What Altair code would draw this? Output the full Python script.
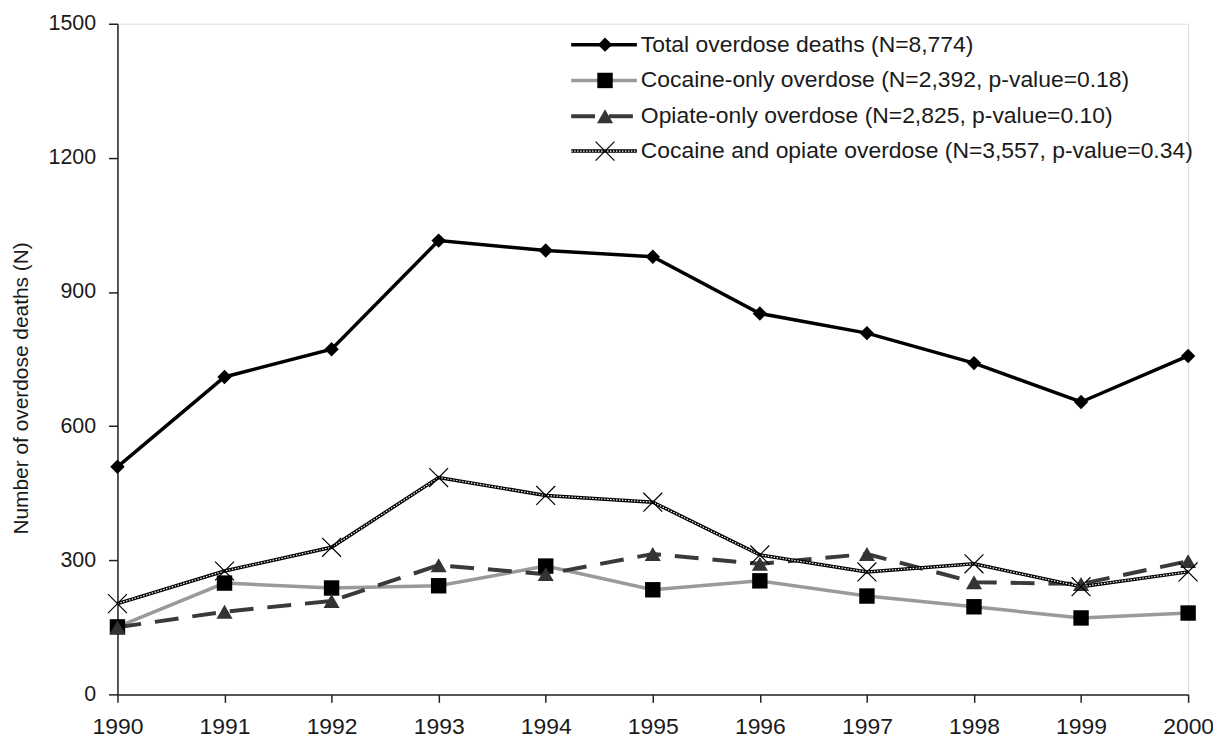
import altair as alt
import pandas as pd

years = [1990, 1991, 1992, 1993, 1994, 1995, 1996, 1997, 1998, 1999, 2000]
total = [509, 710, 772, 1015, 993, 979, 852, 808, 741, 654, 757]
cocaine_only = [151, 249, 238, 243, 287, 234, 254, 220, 196, 171, 182]
opiate_only = [150, 185, 209, 289, 269, 314, 292, 314, 251, 247, 298]
cocaine_opiate = [203, 276, 329, 485, 445, 430, 312, 274, 292, 241, 274]
series_labels = [
    "Total overdose deaths (N=8,774)",
    "Cocaine-only overdose (N=2,392, p-value=0.18)",
    "Opiate-only overdose (N=2,825, p-value=0.10)",
    "Cocaine and opiate overdose (N=3,557, p-value=0.34)",
]
y_ticks = [0, 300, 600, 900, 1200, 1500]
y_title = "Number of overdose deaths (N)"

rows = []
for name, vals in zip(series_labels, [total, cocaine_only, opiate_only, cocaine_opiate]):
    for yr, v in zip(years, vals):
        rows.append({"year": yr, "deaths": v, "series": name})
df = pd.DataFrame(rows)

FONT = "Liberation Sans"
TXT = "#1a1a1a"
AX = "#222222"

x_enc = alt.X(
    "year:Q",
    scale=alt.Scale(domain=[years[0], years[-1]], nice=False, zero=False),
    axis=alt.Axis(values=years, format="d", title=None, grid=False,
                  labelFontSize=23, labelFont=FONT, labelColor=TXT,
                  tickSize=8, tickColor=AX, tickWidth=1.5,
                  domainColor=AX, domainWidth=1.5, labelPadding=13,
                  labelFlush=False, labelOverlap=False),
)
y_enc = alt.Y(
    "deaths:Q",
    scale=alt.Scale(domain=[0, 1500], nice=False),
    axis=alt.Axis(values=y_ticks, format="d", title=y_title, grid=False,
                  labelFontSize=21.5, labelFont=FONT, labelColor=TXT,
                  tickSize=9, tickColor=AX, tickWidth=1.5,
                  domainColor=AX, domainWidth=1.5, labelPadding=13,
                  titleFont=FONT, titleFontSize=21, titleFontWeight="normal",
                  titleColor=TXT, titleX=-96, titleY=366, titleAngle=270,
                  titleAlign="center", titleBaseline="middle"),
)


def sub(name):
    return alt.Chart(df).transform_filter(alt.datum.series == name).encode(x=x_enc, y=y_enc)


X_PATH = "M-1,-1L1,1M-1,1L1,-1"

styles = {
    series_labels[0]: dict(lines=[dict(color="black", strokeWidth=3.5)],
                           point=dict(shape="diamond", filled=True, color="black", size=210)),
    series_labels[1]: dict(lines=[dict(color="#9a9a9a", strokeWidth=3.5)],
                           point=dict(shape="square", filled=True, color="black", size=240)),
    series_labels[2]: dict(lines=[dict(color="#3a3a3a", strokeWidth=4, strokeDash=[24, 14])],
                           point=dict(shape="triangle-up", filled=True, color="#333333", size=260)),
    series_labels[3]: dict(lines=[dict(color="black", strokeWidth=3.5),
                                  dict(color="white", strokeWidth=1.2, strokeDash=[1.5, 1.5])],
                           point=dict(shape=X_PATH, filled=False, stroke="black", strokeWidth=1.2, size=360)),
}

draw_order = [series_labels[1], series_labels[2], series_labels[3], series_labels[0]]
layers = []
for name in draw_order:
    st = styles[name]
    for ls in st["lines"]:
        layers.append(sub(name).mark_line(**ls))
for name in draw_order:
    st = styles[name]
    layers.append(sub(name).mark_point(opacity=1, **st["point"]))

# legend (top right, inside plot)
leg_rows_y = [21, 57, 93, 128]
for name, ry in zip(series_labels, leg_rows_y):
    st = styles[name]
    ld = pd.DataFrame({"label": [name]})
    for ls in st["lines"]:
        layers.append(alt.Chart(ld).mark_rule(**ls).encode(
            x=alt.value(456), x2=alt.value(522), y=alt.value(ry)))
    layers.append(alt.Chart(ld).mark_point(opacity=1, **st["point"]).encode(
        x=alt.value(490), y=alt.value(ry)))
    layers.append(alt.Chart(ld).mark_text(align="left", baseline="middle", fontSize=23,
                                          font=FONT, color=TXT).encode(
        x=alt.value(526), y=alt.value(ry), text="label:N"))

chart = alt.layer(*layers).properties(
    width=1076, height=674,
    padding={"left": 110, "top": 14, "right": 25, "bottom": 43},
    autosize=alt.AutoSizeParams(type="none"),
).configure_view(stroke=None).configure(background="white")

chart.save("out.html", embed_options={"renderer": "svg", "actions": False})
